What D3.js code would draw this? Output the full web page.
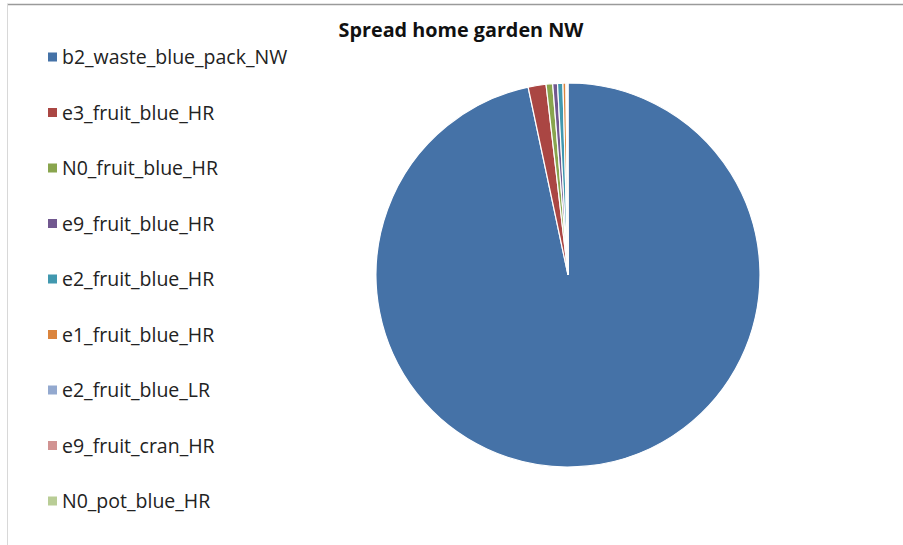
<!DOCTYPE html>
<html><head><meta charset="utf-8">
<script src="https://cdn.jsdelivr.net/npm/d3@7"></script>
<style>body{margin:0;background:#fff}svg{display:block}</style>
</head><body>
<script>
const title = "Spread home garden NW";
const categories = ["b2_waste_blue_pack_NW","e3_fruit_blue_HR","N0_fruit_blue_HR","e9_fruit_blue_HR","e2_fruit_blue_HR","e1_fruit_blue_HR","e2_fruit_blue_LR","e9_fruit_cran_HR","N0_pot_blue_HR"];
const values = [96.4, 1.5, 0.55, 0.4, 0.45, 0.25, 0.08, 0.05, 0.04];
const colors = ["#4572A7","#AA4643","#89A54E","#71588F","#4198AF","#DB843D","#93A9CF","#D19392","#B9CD96"];

const W = 903, H = 545;
const svg = d3.select("body").append("svg").attr("width", W).attr("height", H);

svg.append("line").attr("x1",7).attr("x2",W).attr("y1",4.5).attr("y2",4.5).attr("stroke","#9a9a9a").attr("stroke-width",1.5);
svg.append("line").attr("x1",7.5).attr("x2",7.5).attr("y1",4).attr("y2",H).attr("stroke","#d8d8d8").attr("stroke-width",1);

svg.append("text").attr("x",461).attr("y",37).attr("text-anchor","middle")
  .attr("font-family","'Open Sans', sans-serif").attr("font-weight","bold").attr("font-size",19.8)
  .attr("fill","#111").text(title);

const cx = 568, cy = 275, r = 192;
const pie = d3.pie().sort(null).value(d => d);
const arc = d3.arc().innerRadius(0).outerRadius(r);
const color = d3.scaleOrdinal().domain(categories).range(colors);
svg.append("g").attr("transform",`translate(${cx},${cy})`)
  .selectAll("path").data(pie(values)).join("path")
  .attr("d", arc).attr("fill",(d,i)=>color(categories[i]))
  .attr("stroke","#fff").attr("stroke-width",1.2);

const legY = d3.scalePoint().domain(categories).range([57, 501]);
const leg = svg.append("g");
categories.forEach((c,i)=>{
  const y = legY(c);
  leg.append("rect").attr("x",48).attr("y",y-4.5).attr("width",9).attr("height",9).attr("fill",color(c));
  leg.append("text").attr("x",62).attr("y",y+7).attr("font-family","'Open Sans', sans-serif")
    .attr("font-size",19.5).attr("fill","#222").text(c);
});
</script>
</body></html>
